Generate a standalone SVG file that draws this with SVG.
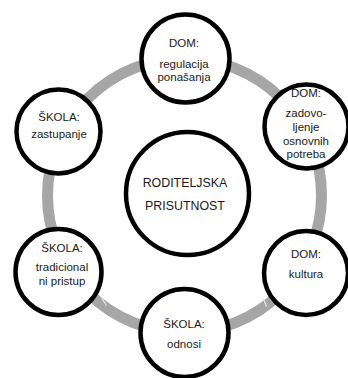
<svg xmlns="http://www.w3.org/2000/svg" width="348" height="378" viewBox="0 0 348 378">
<style>
.ring{fill:none;stroke:#a6a6a6;stroke-width:11}
.gap{stroke:#e6e6e6;stroke-width:1.2}
.node{fill:#fff;stroke:#000;stroke-width:4.5}
.t{font-family:"Liberation Sans",Arial,sans-serif;font-size:11.5px;fill:#1a1a1a;text-anchor:middle}
.c{font-size:12.4px}
</style>
<rect width="348" height="378" fill="#fff"/>
<g id="connectors">
<circle class="ring" cx="184.5" cy="195.5" r="137"/>
<line class="gap" x1="101.7" y1="298.3" x2="106.7" y2="305.5"/>
<line class="gap" x1="263.3" y1="298.3" x2="266.7" y2="306.7"/>
</g>
<g id="center">
<circle class="node" cx="187.5" cy="193.5" r="61.5" stroke-width="5"/>
<text class="t c" x="185" y="187">RODITELJSKA</text>
<text class="t c" x="185" y="210">PRISUTNOST</text>
</g>
<g id="n-top">
<circle class="node" cx="185.5" cy="58.5" r="44"/>
<text class="t" x="184" y="47">DOM:</text>
<text class="t" x="184" y="68">regulacija</text>
<text class="t" x="184" y="81">ponašanja</text>
</g>
<g id="n-topright">
<circle class="node" cx="306.5" cy="126.5" r="42"/>
<text class="t" x="306" y="97">DOM:</text>
<text class="t" x="306" y="117">zadovo-</text>
<text class="t" x="306" y="131">ljenje</text>
<text class="t" x="306" y="145">osnovnih</text>
<text class="t" x="306" y="158">potreba</text>
</g>
<g id="n-botright">
<circle class="node" cx="306" cy="273" r="42"/>
<text class="t" x="306" y="258">DOM:</text>
<text class="t" x="306" y="278">kultura</text>
</g>
<g id="n-bottom">
<circle class="node" cx="184.5" cy="333" r="44"/>
<text class="t" x="184" y="328">ŠKOLA:</text>
<text class="t" x="184" y="348">odnosi</text>
</g>
<g id="n-botleft">
<circle class="node" cx="58.5" cy="272" r="43"/>
<text class="t" x="62" y="252">ŠKOLA:</text>
<text class="t" x="62" y="271">tradicional</text>
<text class="t" x="62" y="285">ni pristup</text>
</g>
<g id="n-topleft">
<circle class="node" cx="58.5" cy="131.5" r="42"/>
<text class="t" x="59" y="121">ŠKOLA:</text>
<text class="t" x="59" y="138">zastupanje</text>
</g>
</svg>
